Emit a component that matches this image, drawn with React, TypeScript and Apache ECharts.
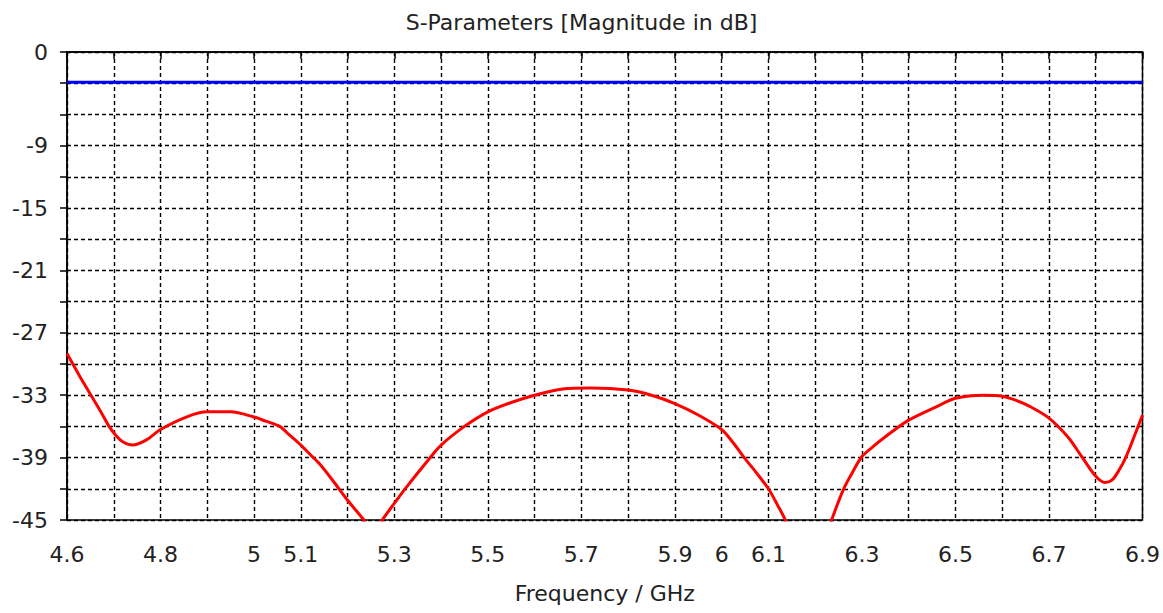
import React, { useEffect, useRef } from "react";
import * as echarts from "echarts";

const titleText = "S-Parameters [Magnitude in dB]";
const xName = "Frequency / GHz";

const xShownLabels = [4.6, 4.8, 5, 5.1, 5.3, 5.5, 5.7, 5.9, 6, 6.1, 6.3, 6.5, 6.7, 6.9];
const yShownLabels = [0, -9, -15, -21, -27, -33, -39, -45];

const blueFreq = [4.6, 6.9];
const blueDb = [-2.9, -2.9];

const redFreq = [
  4.6, 4.625, 4.65, 4.675, 4.69, 4.705, 4.72, 4.74, 4.77, 4.8, 4.855, 4.9, 4.95, 5.0,
  5.025, 5.055, 5.075, 5.1, 5.12, 5.14, 5.17, 5.2, 5.235, 5.255, 5.274, 5.3, 5.323,
  5.373, 5.4, 5.45, 5.5, 5.55, 5.6, 5.66, 5.72, 5.8, 5.85, 5.9, 5.95, 6.0, 6.025, 6.05,
  6.075, 6.1, 6.12, 6.136, 6.16, 6.185, 6.21, 6.235, 6.26, 6.28, 6.3, 6.325, 6.35, 6.4,
  6.46, 6.5, 6.56, 6.6, 6.63, 6.66, 6.7, 6.74, 6.77, 6.8, 6.82, 6.835, 6.85, 6.865,
  6.882, 6.9,
];
const redDb = [
  -29.0, -31.0, -32.9, -34.8, -36.0, -36.9, -37.5, -37.8, -37.3, -36.3, -35.1, -34.6,
  -34.6, -35.1, -35.5, -36.0, -36.8, -37.8, -38.7, -39.6, -41.3, -43.1, -45.0, -46.3,
  -45.0, -43.4, -42.0, -39.2, -37.8, -36.0, -34.6, -33.7, -33.0, -32.4, -32.3, -32.5,
  -33.0, -33.8, -34.9, -36.3, -37.6, -39.1, -40.5, -42.0, -43.6, -45.0, -48.0, -52.0,
  -48.0, -45.0, -42.1, -40.4, -38.9, -37.9, -37.0, -35.4, -34.1, -33.3, -33.0, -33.1,
  -33.5, -34.1, -35.2, -37.0, -38.9, -40.8, -41.4, -41.15, -40.2, -38.9, -37.0, -34.9,
];

const FONT = "DejaVu Sans";

export default function App() {
  const ref = useRef<HTMLDivElement>(null);
  useEffect(() => {
    if (!ref.current) return;
    const chart = echarts.init(ref.current, undefined, { renderer: "svg" });
    const dash = [4, 3];
    chart.setOption({
      animation: false,
      backgroundColor: "#ffffff",
      title: {
        text: titleText,
        left: "center",
        top: 6,
        textStyle: { fontFamily: FONT, fontSize: 22, fontWeight: "normal", color: "#222" },
      },
      grid: {
        left: 67,
        right: 16,
        top: 52,
        bottom: 93,
        show: true,
        borderColor: "#000",
        borderWidth: 1.5,
        backgroundColor: "transparent",
      },
      xAxis: {
        type: "value",
        min: 4.6,
        max: 6.9,
        interval: 0.1,
        name: xName,
        nameLocation: "middle",
        nameGap: 62,
        nameTextStyle: { fontFamily: FONT, fontSize: 22, color: "#222" },
        axisLine: { show: true, lineStyle: { color: "#000", width: 1.5 } },
        axisTick: { show: true, length: 7, lineStyle: { color: "#000", width: 1.5 } },
        axisLabel: {
          margin: 23,
          fontFamily: FONT,
          fontSize: 22,
          color: "#222",
          showMinLabel: true,
          showMaxLabel: true,
          hideOverlap: false,
          formatter: (v: number) => {
            const r = Math.round(v * 10) / 10;
            return xShownLabels.some((s) => Math.abs(s - r) < 1e-6) ? String(r) : "";
          },
        },
        splitLine: { show: true, lineStyle: { color: "#000", type: dash, width: 1.4 } },
      },
      yAxis: {
        type: "value",
        min: -45,
        max: 0,
        interval: 3,
        axisLine: { show: true, lineStyle: { color: "#000", width: 1.5 } },
        axisTick: { show: true, length: 7, lineStyle: { color: "#000", width: 1.5 } },
        axisLabel: {
          margin: 19,
          fontFamily: FONT,
          fontSize: 22,
          color: "#222",
          showMinLabel: true,
          showMaxLabel: true,
          formatter: (v: number) => {
            const r = Math.round(v);
            return yShownLabels.includes(r) ? String(r) : "";
          },
        },
        splitLine: { show: true, lineStyle: { color: "#000", type: dash, width: 1.4 } },
      },
      series: [
        {
          type: "line",
          data: blueFreq.map((f, i) => [f, blueDb[i]]),
          showSymbol: false,
          symbol: "none",
          lineStyle: { color: "#0000ff", width: 3 },
          clip: true,
          z: 3,
        },
        {
          type: "line",
          data: redFreq.map((f, i) => [f, redDb[i]]),
          showSymbol: false,
          symbol: "none",
          smooth: 0.3,
          lineStyle: { color: "#ff0000", width: 3 },
          clip: true,
          z: 3,
        },
      ],
    });
    return () => chart.dispose();
  }, []);
  return (
    <div
      ref={ref}
      style={{ position: "fixed", left: 0, top: 0, width: 1163, height: 613, background: "#fff" }}
    />
  );
}
